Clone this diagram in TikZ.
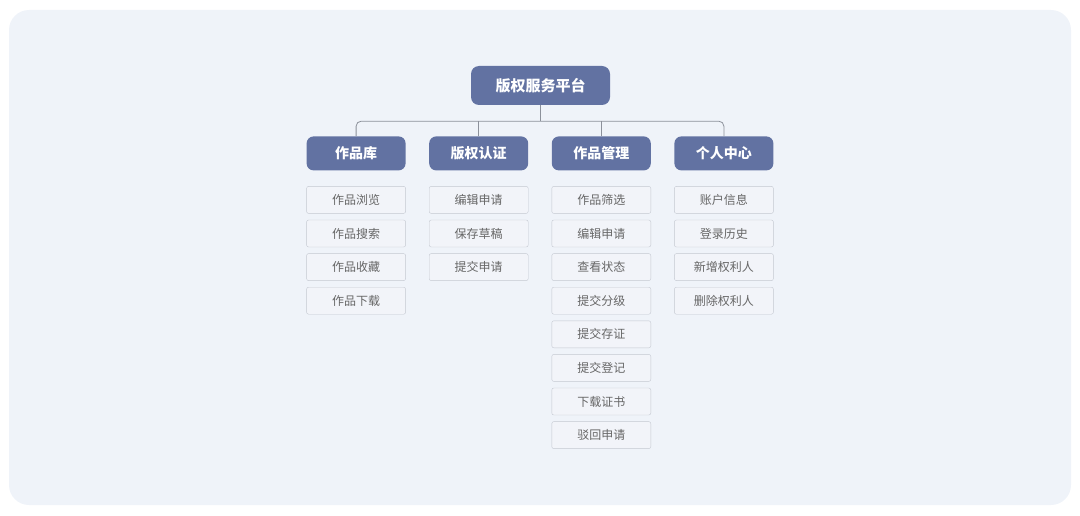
\documentclass[tikz,border=0pt]{standalone}
\usepackage{fontspec}
\setmainfont{Noto Sans CJK SC}
\usetikzlibrary{positioning}
\definecolor{panelbg}{HTML}{EFF3F9}
\definecolor{headblue}{HTML}{6272A2}
\definecolor{leafline}{HTML}{C4C8D1}
\definecolor{leaffill}{HTML}{F2F4F9}
\definecolor{leaftext}{HTML}{666666}
\definecolor{linkgray}{HTML}{8C919B}

\begin{document}
\begin{tikzpicture}[
   x=1pt,y=-1pt,
   every matrix/.style={ampersand replacement=\&,column sep=23.2pt,row sep=6.2pt,inner sep=0pt},
   root/.style={fill=headblue,text=white,rounded corners=8pt,minimum width=139pt,minimum height=39pt,font=\fontsize{15}{18}\selectfont\bfseries},
   head/.style={fill=headblue,text=white,rounded corners=7pt,minimum width=99pt,minimum height=34pt,font=\fontsize{14}{17}\selectfont\bfseries},
   leaf/.style={draw=leafline,fill=leaffill,text=leaftext,rounded corners=2pt,minimum width=99pt,minimum height=27pt,font=\fontsize{12}{14}\selectfont},
   link/.style={draw=linkgray,line width=0.8pt,rounded corners=5pt}]
\useasboundingbox (0,0) rectangle (1080,516);
\fill[panelbg,rounded corners=20pt] (9,10) rectangle (1071,505);
\node[root] (root) at (540.5,85.5) {版权服务平台};
\matrix[anchor=north] at (540,136) {
\node[head] (lib) {作品库};\&\node[head] (cert) {版权认证};\&\node[head] (manage) {作品管理};\&\node[head] (center) {个人中心};\\[9.6pt]
\node[leaf] (lib1) {作品浏览};\&\node[leaf] (cert1) {编辑申请};\&\node[leaf] (manage1) {作品筛选};\&\node[leaf] (center1) {账户信息};\\
\node[leaf] (lib2) {作品搜索};\&\node[leaf] (cert2) {保存草稿};\&\node[leaf] (manage2) {编辑申请};\&\node[leaf] (center2) {登录历史};\\
\node[leaf] (lib3) {作品收藏};\&\node[leaf] (cert3) {提交申请};\&\node[leaf] (manage3) {查看状态};\&\node[leaf] (center3) {新增权利人};\\
\node[leaf] (lib4) {作品下载};\&\&\node[leaf] (manage4) {提交分级};\&\node[leaf] (center4) {删除权利人};\\
\&\&\node[leaf] (manage5) {提交存证};\&\\
\&\&\node[leaf] (manage6) {提交登记};\&\\
\&\&\node[leaf] (manage7) {下载证书};\&\\
\&\&\node[leaf] (manage8) {驳回申请};\&\\
};
\draw[link] (lib.north) -- ++(0,-15) -| (center.north);
\draw[link] (root.south) -- ++(0,16);
\draw[link] (cert.north) -- ++(0,-15);
\draw[link] (manage.north) -- ++(0,-15);
\end{tikzpicture}
\end{document}
